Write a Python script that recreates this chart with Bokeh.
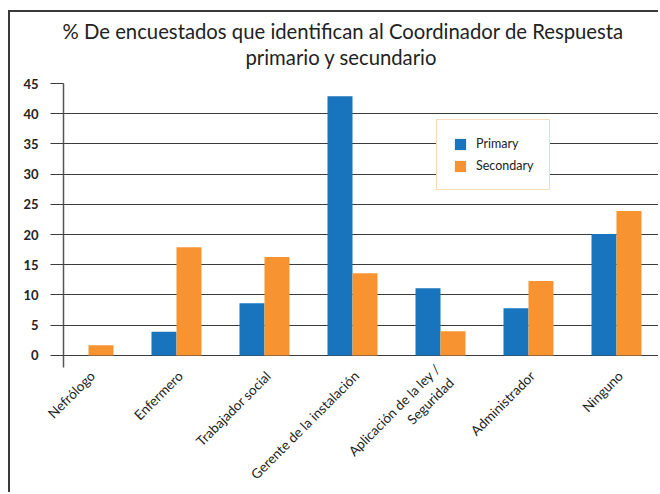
import math
from bokeh.plotting import figure
from bokeh.models import Range1d, FixedTicker, Legend, LegendItem, Title
from bokeh.embed import file_html
from bokeh.resources import INLINE

categories = ["Nefrólogo", "Enfermero", "Trabajador social", "Gerente de la instalación",
              "Aplicación de la ley /\nSeguridad", "Administrador", "Ninguno"]
primary = [0, 3.9, 8.65, 42.9, 11.1, 7.8, 20.1]
secondary = [1.7, 17.9, 16.3, 13.6, 4.0, 12.3, 23.9]
y_ticks = [0, 5, 10, 15, 20, 25, 30, 35, 40, 45]
series_names = ["Primary", "Secondary"]
title_lines = ["% De encuestados que identifican al Coordinador de Respuesta",
               "primario y secundario"]

BLUE = "#1874bc"
ORANGE = "#f79431"
FONT = "Lato"

n = len(categories)
idx = list(range(n))
bw = 0.284
label_shift = 0.045

p = figure(width=650, height=482, output_backend="svg", toolbar_location=None,
           x_range=Range1d(-0.284, 6.5), y_range=Range1d(-2, 45),
           min_border_left=53, min_border_top=71, min_border_bottom=127, min_border_right=0,
           styles={"border-left": "2px solid #3a3a3a", "border-top": "2px solid #3a3a3a",
                   "margin-left": "8px", "margin-top": "10px"})
p.title = None
# stacked outward: the first added sits closest to the plot
t2 = Title(text=title_lines[1], align="left", text_font=FONT, text_font_size="20.3px",
           text_font_style="normal", text_color="#222222", offset=182, standoff=30)
t1 = Title(text=title_lines[0], align="left", text_font=FONT, text_font_size="20.3px",
           text_font_style="normal", text_color="#222222", offset=-1, standoff=-30)
p.add_layout(t2, "above")
p.add_layout(t1, "above")

r1 = p.vbar(x=[i - bw / 2 for i in idx], top=primary, width=bw, bottom=0,
            fill_color=BLUE, line_color=None)
r2 = p.vbar(x=[i + bw / 2 for i in idx], top=secondary, width=bw, bottom=0,
            fill_color=ORANGE, line_color=None)

p.outline_line_color = None
p.background_fill_color = "white"
p.border_fill_color = "white"

# y axis
p.yaxis.ticker = FixedTicker(ticks=y_ticks)
p.yaxis.axis_line_color = "#555555"
p.yaxis.axis_line_width = 1.5
p.yaxis.major_tick_in = 0
p.yaxis.major_tick_out = 13
p.yaxis.major_tick_line_color = "#3c3c3c"
p.yaxis.minor_tick_line_color = None
p.yaxis.major_label_standoff = 12
p.yaxis.major_label_text_font = FONT
p.yaxis.major_label_text_font_style = "bold"
p.yaxis.major_label_text_font_size = "13px"
p.yaxis.major_label_text_color = "#222222"
p.ygrid.ticker = FixedTicker(ticks=y_ticks)
p.ygrid.grid_line_color = "#3c3c3c"
p.ygrid.grid_line_width = 1.2
p.xgrid.grid_line_color = None

# x axis (labels anchored slightly right of the bar-pair centre, as in the reference)
label_pos = [i + label_shift for i in idx]
p.xaxis.ticker = FixedTicker(ticks=label_pos)
p.xaxis.major_label_overrides = {pos: c for pos, c in zip(label_pos, categories)}
p.xaxis.major_label_orientation = math.pi / 4
p.xaxis.axis_line_color = None
p.xaxis.major_tick_line_color = None
p.xaxis.minor_tick_line_color = None
p.xaxis.major_label_standoff = 0
p.xaxis.major_label_text_font = FONT
p.xaxis.major_label_text_font_size = "13.5px"
p.xaxis.major_label_text_color = "#222222"

legend = Legend(items=[LegendItem(label=series_names[0], renderers=[r1]),
                       LegendItem(label=series_names[1], renderers=[r2])],
                location=(373, 177), glyph_width=14, glyph_height=14, label_height=14,
                spacing=7, padding=16, margin=0, label_standoff=9,
                label_text_font=FONT, label_text_font_size="12.5px", label_text_color="#222222",
                border_line_color="#f9b777", border_line_width=1.5,
                background_fill_color="white", background_fill_alpha=1)
p.add_layout(legend, "center")

open("out.html", "w").write(file_html(p, INLINE))
